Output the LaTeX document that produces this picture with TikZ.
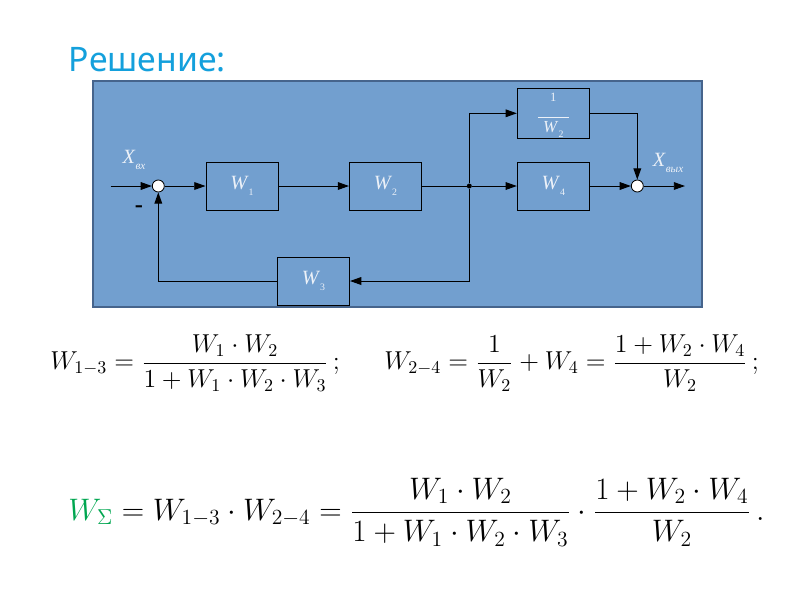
\documentclass[tikz,border=0pt]{standalone}
\usepackage{amsmath}
\usepackage{fontspec}
\newfontfamily\titelfont{Noto Sans}
\newfontfamily\blockfont{Liberation Serif}
\usetikzlibrary{arrows.meta}
\definecolor{panel}{RGB}{114,159,207}
\definecolor{panelrand}{RGB}{70,100,140}
\definecolor{titel}{RGB}{20,160,220}
\definecolor{schrift}{RGB}{236,241,248}
\definecolor{summe}{RGB}{0,166,80}
\begin{document}
\begin{tikzpicture}[x=0.025cm, y=-0.025cm,
  block/.style={draw=black, line width=0.7pt, minimum width=1.8cm, minimum height=1.2cm,
    inner sep=0pt, text=schrift, font=\blockfont\Large},
  summer/.style={circle, draw=black, fill=white, line width=0.6pt, minimum size=0.3cm, inner sep=0pt},
  pfeil/.style={-{Triangle[length=8pt,width=5.5pt]}, line width=0.7pt},
  linie/.style={line width=0.7pt},
  formel/.style={anchor=west, inner sep=0pt, scale=1.28}]
\useasboundingbox (0,0) rectangle (800,600);
% Titel
\node[anchor=west, text=titel, font=\titelfont\fontsize{24}{26}\selectfont] (titel) at (64,60) {Решение:};
% Hintergrund
\draw[fill=panel, draw=panelrand, line width=0.8pt] (93,81) rectangle (702,307);
% Bloecke
\node[block] (W1) at (242,186) {\textit{W}\raisebox{-0.6ex}{\scriptsize 1}};
\node[block] (W2) at (385.5,186) {\textit{W}\raisebox{-0.6ex}{\scriptsize 2}};
\node[block] (W3) at (313.5,281) {\textit{W}\raisebox{-0.6ex}{\scriptsize 3}};
\node[block] (W4) at (553.3,186) {\textit{W}\raisebox{-0.6ex}{\scriptsize 4}};
\node[block, font=\blockfont\large] (kehr) at (553.3,113.3)
  {\begin{tabular}{@{}c@{}}\small 1\\[-3pt]\rule{22pt}{0.4pt}\\[-3pt]\textit{W}\raisebox{-0.6ex}{\scriptsize 2}\end{tabular}};
% Summierer
\node[summer] (S1) at (158.3,186) {};
\node[summer] (S2) at (637.3,186) {};
\node[circle, fill=black, inner sep=0pt, minimum size=0.125cm] (knoten) at (469.3,186) {};
\coordinate (ein) at (110.7,186);
\coordinate (aus) at (685,186);
% Beschriftung
\node[text=schrift, font=\blockfont\Large] (xein) at (134,160) {\textit{X}\raisebox{-0.6ex}{\footnotesize\textit{вх}}};
\node[text=schrift, font=\blockfont\Large] (xaus) at (668,163) {\textit{X}\raisebox{-0.6ex}{\footnotesize\textit{вых}}};
\node[font=\blockfont\bfseries\LARGE] (minus) at (139,209) {-};
% Verbindungen
\draw[pfeil] (ein) -- (S1);
\draw[pfeil] (S1) -- (W1);
\draw[pfeil] (W1) -- (W2);
\draw[linie] (W2) -- (knoten);
\draw[pfeil] (knoten) -- (W4);
\draw[pfeil] (knoten) |- (kehr);
\draw[pfeil] (knoten) |- (W3);
\draw[pfeil] (W3) -| (S1);
\draw[pfeil] (kehr) -| (S2);
\draw[pfeil] (W4) -- (S2);
\draw[pfeil] (S2) -- (aus);
% Formeln
\node[formel, font=\fontsize{14}{17}\selectfont] (f13) at (50,363)
  {$\displaystyle W_{1-3}=\frac{W_1\cdot W_2}{1+W_1\cdot W_2\cdot W_3}\,;$};
\node[formel, font=\fontsize{14}{17}\selectfont] (f24) at (384,363)
  {$\displaystyle W_{2-4}=\frac{1}{W_2}+W_4=\frac{1+W_2\cdot W_4}{W_2}\,;$};
\node[formel, font=\fontsize{18}{22}\selectfont] (fges) at (68,512)
  {$\displaystyle \color{summe}W_{\Sigma}\color{black}=W_{1-3}\cdot W_{2-4}=\frac{W_1\cdot W_2}{1+W_1\cdot W_2\cdot W_3}\cdot\frac{1+W_2\cdot W_4}{W_2}\,.$};
\end{tikzpicture}
\end{document}
